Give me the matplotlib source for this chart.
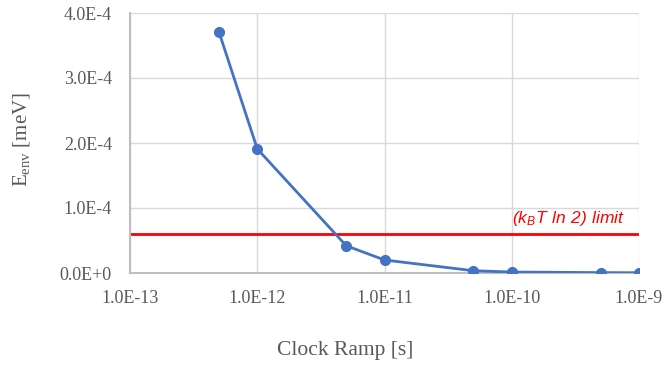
import matplotlib
matplotlib.use("Agg")
import matplotlib.pyplot as plt
from matplotlib.ticker import FuncFormatter

# Datos
ramp = [5e-13, 1e-12, 5e-12, 1e-11, 5e-11, 1e-10, 5e-10, 1e-9]
energy = [3.71e-4, 1.91e-4, 0.42e-4, 0.20e-4, 0.035e-4, 0.015e-4, 0.006e-4, 0.004e-4]
limit = 6.0e-5
x_ticks = [1e-13, 1e-12, 1e-11, 1e-10, 1e-9]
y_ticks = [0, 1e-4, 2e-4, 3e-4, 4e-4]

plt.rcParams["font.family"] = "Liberation Serif"
plt.rcParams["mathtext.fontset"] = "custom"
plt.rcParams["mathtext.rm"] = "Liberation Serif"
plt.rcParams["mathtext.sf"] = "Liberation Sans:italic"

fig = plt.figure(figsize=(6.65, 3.65), dpi=100)
ax = fig.add_axes([130 / 665, 92 / 365, 509 / 665, 260 / 365])

ax.axhline(limit, color="#ff0000", lw=2, zorder=2)
ax.plot(ramp, energy, color="#4472c4", lw=2, marker="o", ms=7, zorder=3)

ax.set_xscale("log")
ax.set_xlim(1e-13, 1e-9)
ax.set_ylim(0, 4e-4)
ax.set_xticks(x_ticks)
ax.set_yticks(y_ticks)
ax.minorticks_off()


def sci(v, pos):
    if v == 0:
        return "0.0E+0"
    mant, exp = ("%.1E" % v).split("E")
    exp = int(exp)
    return mant + "E" + (str(exp) if exp < 0 else "+" + str(exp))


ax.xaxis.set_major_formatter(FuncFormatter(sci))
ax.yaxis.set_major_formatter(FuncFormatter(sci))
ax.tick_params(length=0, labelsize=13, colors="#595959")
ax.tick_params(axis="y", pad=13)
ax.tick_params(axis="x", pad=12)
ax.grid(True, color="#d9d9d9", lw=1)
ax.set_axisbelow(True)
for side in ["top", "right"]:
    ax.spines[side].set_visible(False)
for side in ["left", "bottom"]:
    ax.spines[side].set_color("#bfbfbf")
    ax.spines[side].set_linewidth(1.5)

ax.text(7.8e-10, limit + 0.09e-4, r"$\mathsf{(k_B T\ ln\ 2)\ limit}$", color="#ff0000",
        fontsize=12.5, ha="right", va="bottom")

fig.text(22 / 665, 1 - 140 / 365, r"E$_{\mathrm{env}}$ [meV]", rotation=90, ha="center",
         va="center", fontsize=15, color="#595959")
fig.text(345 / 665, 1 - 351 / 365, "Clock Ramp [s]", ha="center", va="center",
         fontsize=15.5, color="#595959")

fig.savefig("out.png", dpi=100)
